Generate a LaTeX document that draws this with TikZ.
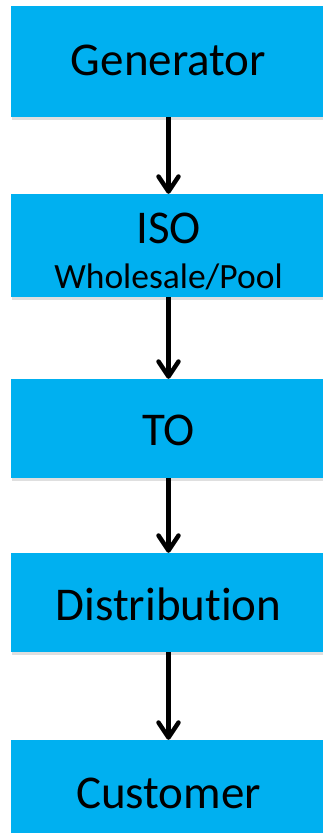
\documentclass[tikz,border=0pt]{standalone}
\usepackage{fontspec}
\setmainfont{Carlito}[Ligatures={NoCommon}]
\usetikzlibrary{arrows.meta,shadows}
\definecolor{boxblue}{HTML}{00B0F0}
\begin{document}
\begin{tikzpicture}[x=1pt,y=-1pt,
 stagebox/.style={rectangle, fill=boxblue, draw=none, minimum width=315pt, inner sep=0pt,
   drop shadow={shadow xshift=0.5pt,shadow yshift=-2.5pt,opacity=0.25}},
 bigtext/.style={anchor=base, font=\fontsize{47}{50}\selectfont, inner sep=0pt},
 smalltext/.style={anchor=base, font=\fontsize{35.5}{40}\selectfont, inner sep=0pt},
 flow/.style={line width=4.5pt, -{Straight Barb[length=15pt,width=20pt,round]}}]
\fill[white] (0,0) rectangle (322,833);
\useasboundingbox (0,0) rectangle (322,833);
\node[stagebox, minimum height=111pt] (gen) at (168.5,61.5) {};
\node[stagebox, minimum height=103pt] (iso) at (168.5,245.5) {};
\node[stagebox, minimum height=99pt] (to) at (168.5,428.5) {};
\node[stagebox, minimum height=99pt] (dist) at (168.5,602.5) {};
\node[stagebox, minimum height=100pt] (cust) at (168.5,790) {};
\node[bigtext] (gentxt) at (168.5,75) {Generator};
\node[bigtext] (isotxt) at (168.5,243) {ISO};
\node[smalltext] (wholetxt) at (168.5,288) {Wholesale/Pool};
\node[bigtext] (totxt) at (168.5,445) {TO};
\node[bigtext] (disttxt) at (168.5,620) {Distribution};
\node[bigtext] (custtxt) at (168.5,808) {Customer};
\draw[flow] (gen.south) -- (iso.north);
\draw[flow] (iso.south) -- (to.north);
\draw[flow] (to.south) -- (dist.north);
\draw[flow] (dist.south) -- (cust.north);
\end{tikzpicture}
\end{document}
